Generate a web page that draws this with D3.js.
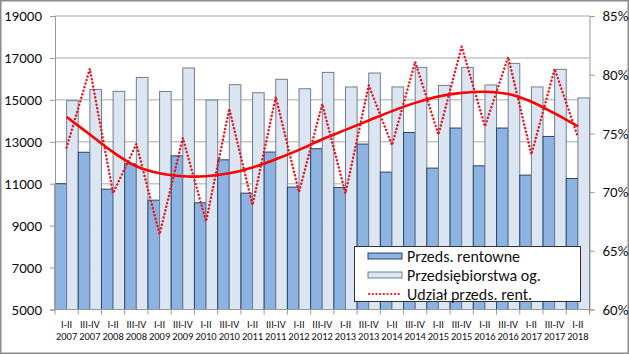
<!DOCTYPE html>
<html><head><meta charset="utf-8">
<script src="https://cdn.jsdelivr.net/npm/d3@7"></script>
<style>
html,body{margin:0;padding:0;background:#fff;}
svg{display:block;font-family:Carlito,Lato,"Open Sans",sans-serif;}
</style></head>
<body><svg id="c" width="629" height="354"></svg>
<script>
const periods = ["I-II","III-IV","I-II","III-IV","I-II","III-IV","I-II","III-IV","I-II","III-IV","I-II","III-IV","I-II","III-IV","I-II","III-IV","I-II","III-IV","I-II","III-IV","I-II","III-IV","I-II"];
const years = ["2007","2007","2008","2008","2009","2009","2010","2010","2011","2011","2012","2012","2013","2013","2014","2014","2015","2015","2016","2016","2017","2017","2018"];
const rentowne = [11000,12500,10740,11950,10215,12330,10090,12140,10550,12510,10840,12670,10820,12890,11555,13445,11745,13655,11855,13655,11410,13255,11250];
const ogolem = [14960,15500,15405,16070,15400,16520,14990,15725,15340,15980,15530,16310,15615,16280,15615,16550,15690,16550,15710,16740,15615,16455,15090];
const udzial = [73.8,80.5,69.9,74.1,66.4,74.6,67.5,77.1,68.9,78.1,70.0,77.5,69.9,79.1,74.0,81.1,74.9,82.4,75.6,81.5,73.2,80.5,74.7];
const trend = [76.4,74.9,73.4,72.2,71.6,71.35,71.35,71.6,72.1,72.8,73.6,74.5,75.3,76.1,76.9,77.6,78.15,78.45,78.55,78.35,77.7,76.7,75.6];
const leftTicks = [5000,7000,9000,11000,13000,15000,17000,19000];
const rightTicks = [60,65,70,75,80,85];
const seriesNames = ["Przeds. rentowne","Przedsiębiorstwa og.","Udział przeds. rent."];

const W=629,H=354, m={l:55,r:39.5,t:16,b:44.5};
const svg=d3.select("#c");
svg.append("rect").attr("x",0.75).attr("y",0.75).attr("width",W-1.5).attr("height",H-1.5)
  .attr("fill","#fff").attr("stroke","#8a8a8a").attr("stroke-width",1.5);

const idx=d3.range(periods.length);
const x=d3.scaleBand().domain(idx).range([m.l,W-m.r]).paddingInner(0).paddingOuter(0);
const xs=d3.scaleBand().domain([0,1]).range([0,x.bandwidth()]);
const y=d3.scaleLinear().domain([5000,19000]).range([H-m.b,m.t]);
const y2=d3.scaleLinear().domain([60,85]).range([H-m.b,m.t]);

// gridlines
svg.append("g").selectAll("line").data(leftTicks.slice(1)).join("line")
  .attr("x1",m.l).attr("x2",W-m.r).attr("y1",d=>y(d)).attr("y2",d=>y(d))
  .attr("stroke","#c6c6c6").attr("stroke-width",1.5);

// bars
const g=svg.append("g").selectAll("g").data(idx).join("g").attr("transform",i=>`translate(${x(i)},0)`);
g.append("rect").attr("x",xs(0)).attr("width",xs.bandwidth()).attr("y",i=>y(rentowne[i])).attr("height",i=>y(5000)-y(rentowne[i]))
  .attr("fill","#8db3e2").attr("stroke","#2b4566").attr("stroke-width",1);
g.append("rect").attr("x",xs(1)).attr("width",xs.bandwidth()).attr("y",i=>y(ogolem[i])).attr("height",i=>y(5000)-y(ogolem[i]))
  .attr("fill","#dce6f2").attr("stroke","#6f7f90").attr("stroke-width",1);

// axes
const axL=svg.append("g").attr("transform",`translate(${m.l},0)`)
  .call(d3.axisLeft(y).tickValues(leftTicks).tickSize(5).tickPadding(8).tickFormat(d3.format("d")));
const axR=svg.append("g").attr("transform",`translate(${W-m.r},0)`)
  .call(d3.axisRight(y2).tickValues(rightTicks).tickSize(5).tickPadding(8).tickFormat(d=>d+"%"));
[axL,axR].forEach(a=>{a.select(".domain").attr("stroke","#999");a.selectAll(".tick line").attr("stroke","#999");
  a.selectAll("text").attr("font-size",15).attr("fill","#111").attr("font-family","Carlito,Lato,sans-serif");});
axL.selectAll("text").attr("x",-13);
axR.selectAll("text").attr("x",13);

// bottom axis
const yb=H-m.b;
svg.append("line").attr("x1",m.l).attr("x2",W-m.r).attr("y1",yb).attr("y2",yb).attr("stroke","#999");
svg.append("g").selectAll("line").data(d3.range(periods.length+1)).join("line")
  .attr("x1",i=>m.l+i*x.bandwidth()).attr("x2",i=>m.l+i*x.bandwidth()).attr("y1",yb).attr("y2",yb+5).attr("stroke","#999");
const lab=svg.append("g").selectAll("text").data(idx).join("text")
  .attr("x",i=>x(i)+x.bandwidth()/2).attr("text-anchor","middle").attr("font-size",10.5).attr("fill","#111");
lab.append("tspan").attr("x",i=>x(i)+x.bandwidth()/2).attr("y",328).text(i=>periods[i]);
lab.append("tspan").attr("x",i=>x(i)+x.bandwidth()/2).attr("y",340).text(i=>years[i]);

// lines
const cx=i=>x(i)+x.bandwidth()/2;
svg.append("path").datum(idx).attr("fill","none").attr("stroke","#ff0000").attr("stroke-width",2.6)
  .attr("d",d3.line().x(cx).y(i=>y2(trend[i])).curve(d3.curveCatmullRom));
svg.append("path").datum(idx).attr("fill","none").attr("stroke","#e8141e").attr("stroke-width",2.4)
  .attr("stroke-dasharray","0.1,3.6").attr("stroke-linecap","round")
  .attr("d",d3.line().x(cx).y(i=>y2(udzial[i])));

// legend
const L=svg.append("g");
L.append("rect").attr("x",354.5).attr("y",246.5).attr("width",226).attr("height",55).attr("fill","#fff").attr("stroke","#333").attr("stroke-width",1);
const rows=[256,275,294];
L.append("rect").attr("x",368).attr("y",rows[0]-3).attr("width",34).attr("height",6).attr("fill","#8db3e2").attr("stroke","#2b4566");
L.append("rect").attr("x",368).attr("y",rows[1]-3).attr("width",34).attr("height",6).attr("fill","#dce6f2").attr("stroke","#6f7f90");
L.append("line").attr("x1",369).attr("x2",402).attr("y1",rows[2]).attr("y2",rows[2]).attr("stroke","#e8141e").attr("stroke-width",2.2)
  .attr("stroke-dasharray","0.1,3.6").attr("stroke-linecap","round");
L.selectAll("text").data(seriesNames).join("text").attr("x",407).attr("y",(d,i)=>rows[i]).attr("dy","0.35em")
  .attr("font-size",16).attr("fill","#111").text(d=>d);
</script></body></html>
